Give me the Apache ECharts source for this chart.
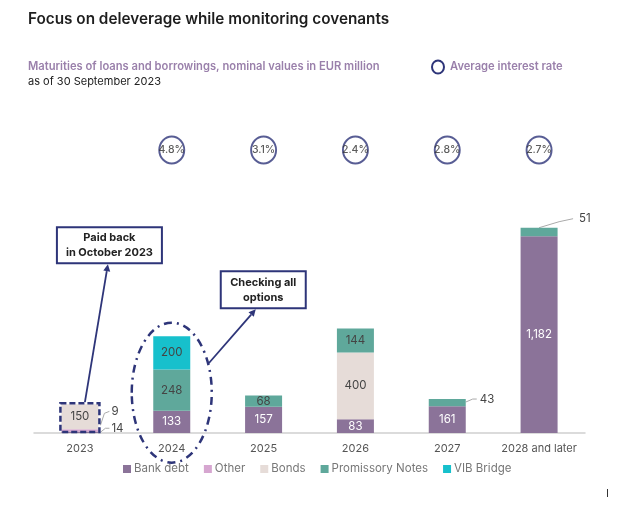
<!DOCTYPE html>
<html><head><meta charset="utf-8">
<script src="https://cdn.jsdelivr.net/npm/echarts@6/dist/echarts.min.js"></script>
<style>html,body{margin:0;padding:0;background:#fff}#c{width:640px;height:508px}</style>
</head><body><div id="c"></div>
<script>
const categories = ['2023', '2024', '2025', '2026', '2027', '2028 and later'];
const bankDebt = [9, 133, 157, 83, 161, 1182];
const other = [14, 0, 0, 0, 0, 0];
const bonds = [150, 0, 0, 400, 0, 0];
const promissoryNotes = [0, 248, 68, 144, 43, 51];
const vibBridge = [0, 200, 0, 0, 0, 0];
const interestRates = ['4.8%', '3.1%', '2.4%', '2.8%', '2.7%'];
const rateCategories = ['2024', '2025', '2026', '2027', '2028 and later'];

const NAVY = '#2e3579';
const FONT = 'Inter, "Noto Sans", sans-serif';
const chart = echarts.init(document.getElementById('c'));

function lbl(color, show) {
  return {
    show: true, position: 'inside', color: color, fontSize: 11.5, fontFamily: FONT,
    formatter: p => (show && show(p) === false) || !p.value ? '' : echarts.format.addCommas(p.value)
  };
}

const series = [
  {name: 'Bank debt', type: 'bar', stack: 's', data: bankDebt, barWidth: 37, itemStyle: {color: '#8b7399'},
   label: lbl('#ffffff', p => p.dataIndex !== 0)},
  {name: 'Other', type: 'bar', stack: 's', data: other, itemStyle: {color: '#d6a6d0'},
   label: lbl('#444', p => false)},
  {name: 'Bonds', type: 'bar', stack: 's', data: bonds, itemStyle: {color: '#e6dcd8'},
   label: lbl('#444')},
  {name: 'Promissory Notes', type: 'bar', stack: 's', data: promissoryNotes, itemStyle: {color: '#5fa89b'},
   label: lbl('#444', p => p.dataIndex !== 4 && p.dataIndex !== 5)},
  {name: 'VIB Bridge', type: 'bar', stack: 's', data: vibBridge, itemStyle: {color: '#17c0cc'},
   label: lbl('#444')},
  {name: 'rate', type: 'scatter', data: rateCategories.map((c, i) => [c, 1700, interestRates[i]]),
   symbol: 'circle', symbolSize: [25, 27], silent: true,
   itemStyle: {color: '#fff', borderColor: NAVY, borderWidth: 2},
   label: {show: true, position: 'inside', formatter: p => p.data[2], color: '#333', fontSize: 10.5, fontWeight: 500, fontFamily: FONT}}
];

chart.setOption({
  animation: false,
  textStyle: {fontFamily: FONT},
  grid: {left: 34, right: 55, top: 100, bottom: 75},
  xAxis: {type: 'category', data: categories,
    axisLine: {lineStyle: {color: '#d0d0d0', width: 1.5}}, axisTick: {show: false},
    axisLabel: {interval: 0, color: '#555', fontSize: 11, margin: 10, fontFamily: FONT}},
  yAxis: {type: 'value', min: 0, max: 2000, show: false},
  legend: {bottom: 28, left: 118, icon: 'rect', itemWidth: 8, itemHeight: 8, itemGap: 15,
    data: ['Bank debt', 'Other', 'Bonds', 'Promissory Notes', 'VIB Bridge'],
    textStyle: {color: '#777', fontSize: 11.5, fontFamily: FONT, padding: [0, 0, 0, -2]}},
  series: series
});

function P(cat, v) { return chart.convertToPixel({xAxisIndex: 0, yAxisIndex: 0}, [cat, v]); }
const total = i => bankDebt[i] + other[i] + bonds[i] + promissoryNotes[i] + vibBridge[i];
const HW = 18.5;

function arrow(x1, y1, x2, y2) {
  const a = Math.atan2(y2 - y1, x2 - x1), L = 7, W = 3.5;
  const bx = x2 - L * Math.cos(a), by = y2 - L * Math.sin(a);
  return [
    {type: 'line', shape: {x1, y1, x2: bx, y2: by}, style: {stroke: NAVY, lineWidth: 1.8}},
    {type: 'polygon', shape: {points: [[x2, y2], [bx - W * Math.sin(a), by + W * Math.cos(a)], [bx + W * Math.sin(a), by - W * Math.cos(a)]]},
     style: {fill: NAVY}}
  ];
}
function box(x, y, w, h, lines) {
  return [
    {type: 'rect', shape: {x, y, width: w, height: h}, style: {fill: '#fff', stroke: NAVY, lineWidth: 2}},
    {type: 'text', x: x + w / 2, y: y + h / 2, style: {text: lines, align: 'center', verticalAlign: 'middle',
      fill: '#222', font: 'bold 11px ' + FONT, lineHeight: 15}}
  ];
}
function leader(pts, text, tx, ty) {
  return [
    {type: 'polyline', shape: {points: pts}, style: {stroke: '#aaa', lineWidth: 1}},
    {type: 'text', x: tx, y: ty, style: {text: text, fill: '#444', font: '11.5px ' + FONT, verticalAlign: 'middle'}}
  ];
}

const b0 = P(0, total(0)), base0 = P(0, 0);
const b1 = P(1, total(1)), base1 = P(1, 0);
const b4 = P(4, total(4)), b5 = P(5, total(5));
const yOther = P(0, bankDebt[0] + other[0] / 2)[1], yBank = P(0, bankDebt[0] / 2)[1];

const g = [];
g.push({type: 'text', left: 28, top: 12, style: {text: 'Focus on deleverage while monitoring covenants', fill: '#1e1e1e', font: '600 15.3px ' + FONT}});
g.push({type: 'text', left: 28, top: 61, style: {text: 'Maturities of loans and borrowings, nominal values in EUR million', fill: '#9a80ab', font: '600 11.2px ' + FONT}});
g.push({type: 'text', left: 28, top: 76, style: {text: 'as of 30 September 2023', fill: '#222', font: '11px ' + FONT}});
g.push({type: 'ellipse', shape: {cx: 438, cy: 67, rx: 6, ry: 6.5}, style: {fill: 'none', stroke: NAVY, lineWidth: 2}});
g.push({type: 'text', left: 450, top: 61, style: {text: 'Average interest rate', fill: '#9a80ab', font: '600 11.2px ' + FONT}});

g.push({type: 'rect', shape: {x: b0[0] - HW - 1, y: b0[1] - 1, width: 2 * HW + 2, height: base0[1] - b0[1]},
  style: {fill: 'none', stroke: NAVY, lineWidth: 2.5, lineDash: [6, 3]}, z: 10});
g.push({type: 'ellipse', shape: {cx: b1[0], cy: (b1[1] + base1[1]) / 2 + 8, rx: 40, ry: 70},
  style: {fill: 'none', stroke: NAVY, lineWidth: 2.5, lineDash: [8, 5, 2, 5]}, z: 10});
g.push(...arrow(b0[0] + 5, b0[1] - 2, b0[0] + 28, b0[1] - 140));
g.push(...box(b0[0] - 23, b0[1] - 177, 105, 36, 'Paid back\nin October 2023'));
g.push(...arrow(b1[0] + 37, b1[1] + 27, b1[0] + 84, b1[1] - 27));
g.push(...box(b1[0] + 49, b1[1] - 65, 85, 37, 'Checking all\noptions'));
g.push(...leader([[b0[0] + HW + 2, yOther - 5], [b0[0] + HW + 6, yOther - 17], [b0[0] + HW + 11, yOther - 19]], String(bankDebt[0]), b0[0] + HW + 13, yOther - 19));
g.push(...leader([[b0[0] + HW + 2, yBank], [b0[0] + HW + 7, yBank - 4], [b0[0] + HW + 11, yBank - 4]], String(other[0]), b0[0] + HW + 13, yBank - 4));
g.push(...leader([[b4[0] + HW, b4[1] + 3], [b4[0] + HW + 7, b4[1]], [b4[0] + HW + 11, b4[1]]], String(promissoryNotes[4]), b4[0] + HW + 14, b4[1] + 1));
g.push(...leader([[b5[0], b5[1]], [b5[0] + 20, b5[1] - 6], [b5[0] + 34, b5[1] - 9]], String(promissoryNotes[5]), b5[0] + 40, b5[1] - 9));
g.push({type: 'rect', shape: {x: 607, y: 489, width: 1, height: 8}, style: {fill: '#333'}});

chart.setOption({graphic: g});
</script></body></html>
